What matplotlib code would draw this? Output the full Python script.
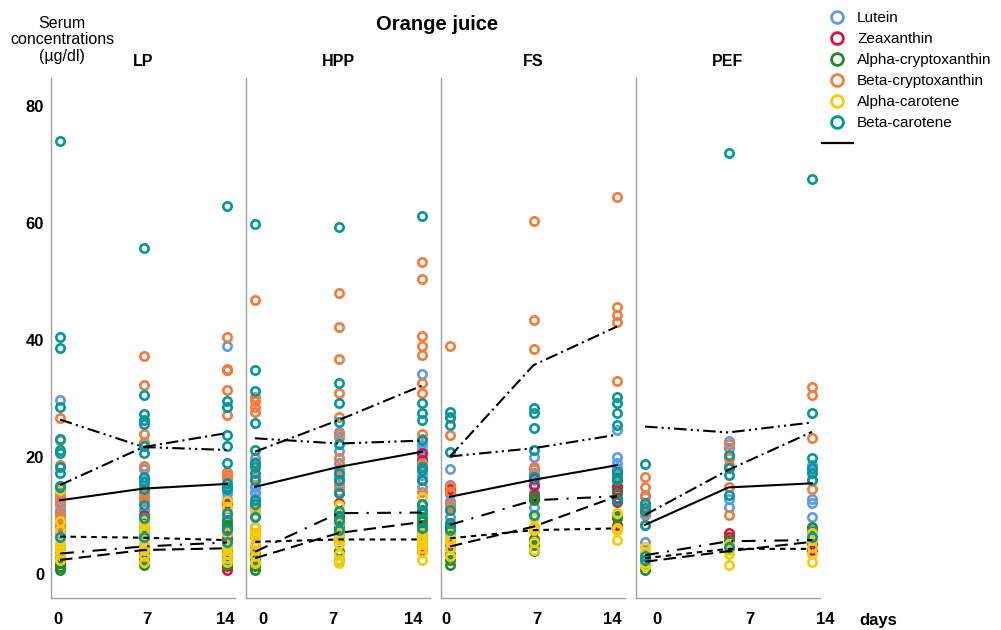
import matplotlib
matplotlib.use("Agg")
import matplotlib.pyplot as plt
from matplotlib.lines import Line2D

plt.rcParams['lines.scale_dashes'] = False
plt.rcParams['font.family'] = ['Liberation Sans', 'DejaVu Sans']

# ---------------- data ----------------
panels = ['LP', 'HPP', 'FS', 'PEF']
days = [0, 7, 14]
day_labels = ['0', '7', '14']
carotenoids = ['Lutein', 'Zeaxanthin', 'Alpha-cryptoxanthin',
               'Beta-cryptoxanthin', 'Alpha-carotene', 'Beta-carotene']
y_ticks = [0, 20, 40, 60, 80]

# individual serum values (µg/dl): panel -> [day0, day7, day14]
lutein_pts = {
    'LP':  [[29.7, 12.4, 11.8, 10.6, 9.2, 8.5, 13.5, 11, 7, 12.3],
            [22, 18, 16, 15, 14, 13, 12.5, 11, 10, 14.5],
            [38.9, 34.8, 13.8, 12.9, 12.1, 9, 8, 7.5, 10, 6.2]],
    'HPP': [[19.8, 18.9, 16.1, 13.8, 15, 14, 12.5, 11, 13, 14.9],
            [24.3, 23.5, 21, 19, 18, 17, 16, 15, 14.2, 15],
            [34.2, 21.2, 20.1, 14.9, 23, 22, 19, 18.5, 17, 19.1]],
    'FS':  [[17.9, 15.2, 9.8, 14, 12, 11.5, 12.5, 13.7],
            [20, 18, 17, 16, 15, 14, 11.5, 17.3],
            [24.6, 14.9, 20, 19, 17, 16.5, 18.2]],
    'PEF': [[13.5, 10.1, 5.5, 11.8],
            [22.8, 21.5, 11.5, 12.8],
            [18.6, 17.8, 12.9, 12.1, 9.8, 7.5]],
}
zeaxanthin_pts = {
    'LP':  [[8, 5, 3.5, 2.5, 1.8, 1.2, 3, 2.8],
            [10.1, 7, 5, 4, 3.5, 3, 2.5, 2.5],
            [0.7, 1.3, 3, 5, 7, 8, 6, 12]],
    'HPP': [[8, 5, 3, 2, 1.5, 3.5, 4, 3.4],
            [16.1, 13.8, 12.1, 10, 9, 8, 7, 7.2],
            [20.6, 19.5, 16.1, 8, 6, 5, 4, 4.8]],
    'FS':  [[14.6, 8.7, 8.1, 6, 5, 7.8],
            [16.4, 15.2, 13.5, 12.9, 10, 7.6],
            [14.4, 8.4, 15, 16, 13, 12.3, 14]],
    'PEF': [[3.5, 2.4], [7.0, 6.4], [5.2, 4.1]],
}
acrypt_pts = {
    'LP':  [[0.7, 1.2, 1.8, 2.5, 3, 4.5, 2, 3.5],
            [1.5, 2.4, 7, 8, 4, 3, 3.5, 3.4],
            [9.2, 8.4, 3, 2, 1.8, 1.5, 2.5, 3.4, 4, 8.2]],
    'HPP': [[0.7, 1.3, 7, 2, 3, 2.5, 1.8, 3.3],
            [2.4, 4, 6, 7.5, 9, 10, 8, 9.1],
            [11.8, 10.9, 9.8, 8.4, 7.5, 6.5, 9, 7.3]],
    'FS':  [[1.5, 3.5, 2.4, 6, 8, 7, 4.5, 4.7],
            [13.2, 12.6, 8, 6, 5, 4, 7.9],
            [17.5, 16.4, 13.8, 12.6, 10, 9.5]],
    'PEF': [[0.7, 1.5, 2.4], [5.8, 4.4], [8.1, 7.2, 6.4]],
}
bcrypt_pts = {
    'LP':  [[26.6, 22.9, 18.7, 15, 13, 10.1, 9.8, 8.2, 14, 12],
            [37.3, 32.3, 24, 22.6, 18.5, 13.5, 14.4, 12.6],
            [40.5, 35, 34.8, 31.5, 27.2, 16.9, 16.4, 10.4, 11.5, 17.5]],
    'HPP': [[46.8, 30.3, 29.5, 28.6, 27.7, 12.6, 10.9, 19.2, 11.8, 7, 10, 16.6],
            [48.1, 42.2, 36.8, 30.9, 26.9, 24, 19.8, 8.7, 15, 14, 18],
            [53.4, 50.4, 40.6, 39, 37.4, 32.6, 30.9, 24, 18.9, 16.1, 14]],
    'FS':  [[38.9, 26.6, 23.8, 11.8, 11.2, 15, 14],
            [60.4, 43.4, 38.4, 18.3, 18.1],
            [64.5, 45.6, 44.3, 43.0, 33.0]],
    'PEF': [[16.6, 14.9, 13.2, 8.4, 10.4],
            [22.3, 19.8, 18.6, 14.9, 10.1],
            [31.9, 30.6, 23.2, 14.6, 16.1]],
}
acar_pts = {
    'LP':  [[14.4, 9, 7.5, 6, 5.2, 4.7, 4.1, 3.2, 2.4, 7.5],
            [8.4, 7.5, 7, 5.2, 4.1, 3, 2.1, 6, 9.5, 9],
            [12.4, 11.5, 7, 4.7, 3.5, 2.7, 2, 4.5, 5, 4.7]],
    'HPP': [[8.1, 7, 5.2, 4.1, 3, 2.1, 1.8, 11, 6.5, 6.2],
            [11.8, 8.7, 7, 5.2, 3.5, 2.4, 1.8, 6, 7.5, 5.1],
            [13.2, 7, 5.2, 4.4, 3.8, 2.4, 6, 5.5, 6.3, 5.2]],
    'FS':  [[10.9, 5.8, 3, 4.4, 7, 5.5, 6, 6.2],
            [9.5, 7.8, 5.5, 4.1, 8, 10, 7.6],
            [10.4, 7.8, 7.5, 5.8, 7.5]],
    'PEF': [[4.7, 3.8, 3.0, 1.8, 1.3],
            [5.2, 3.5, 1.5, 4.1],
            [7.0, 5.8, 4.7, 3.5, 2.1]],
}
bcar_pts = {
    'LP':  [[74.1, 40.5, 38.7, 28.5, 23, 21.2, 20.7, 18.3, 17.3, 15, 14.8, 6.4],
            [55.7, 30.6, 27.4, 26.4, 25.6, 21.8, 20.6, 16.6, 15.8, 14.6, 11.8, 6.4, 9.5],
            [62.9, 29.5, 28.6, 23.8, 21.8, 19, 15.5, 14.9, 14.6, 7.5, 5.4, 10.4]],
    'HPP': [[59.9, 34.9, 31.2, 25.8, 21.2, 18.9, 18.3, 17.2, 16.1, 12.6, 9.8, 12],
            [59.4, 32.7, 29.2, 26, 22.3, 17.2, 16.1, 13.8, 10.7, 7.5, 9],
            [61.2, 29.2, 27.6, 26.3, 22.9, 18.3, 17.8, 16.1, 10.4, 7.8, 12]],
    'FS':  [[27.7, 26.8, 25.5, 20.9, 10.9, 8.7, 7.5],
            [28.3, 27.5, 24.9, 21.2, 16.6, 10.1],
            [30.3, 29.2, 27.6, 25.5, 17.5, 16.1, 12.6]],
    'PEF': [[18.8, 12.1, 11.2, 10.7, 8.4, 3.0, 2.4],
            [71.9, 20.3, 18.1, 16.9, 13.5, 4.7],
            [67.5, 27.6, 19.8, 18.1, 17.2, 16.1, 6.4]],
}

# mean lines: panel -> [day0, day7, day14]
lutein_mean = {'LP': [12.6, 14.6, 15.4], 'HPP': [14.9, 18.3, 20.9],
               'FS': [13.2, 16.1, 18.6], 'PEF': [8.4, 14.8, 15.5]}
zeaxanthin_mean = {'LP': [3.5, 4.7, 5.4], 'HPP': [3.8, 10.4, 10.5],
                   'FS': [8.4, 12.6, 13.3], 'PEF': [3.2, 5.6, 5.8]}
acrypt_mean = {'LP': [2.4, 4.1, 4.4], 'HPP': [2.7, 7.0, 8.9],
               'FS': [4.7, 8.1, 13.3], 'PEF': [2.1, 3.9, 5.5]}
bcrypt_mean = {'LP': [15.2, 21.7, 24.1], 'HPP': [20.9, 26.3, 32.2],
               'FS': [20.1, 35.7, 42.3], 'PEF': [10.1, 17.8, 24.3]}
acar_mean = {'LP': [6.4, 6.2, 5.8], 'HPP': [5.5, 5.9, 5.9],
             'FS': [6.1, 7.5, 7.8], 'PEF': [2.7, 4.3, 4.3]}
bcar_mean = {'LP': [26.4, 21.7, 21.2], 'HPP': [23.2, 22.3, 22.8],
             'FS': [20.1, 21.5, 23.8], 'PEF': [25.2, 24.2, 25.9]}

# ---------------- styles ----------------
colors = ['#5b9bea', '#e0103c', '#1f8b2c', '#f77a3a', '#f8cc00', '#00999b']
dash_styles = ['-', (0, (10, 6, 1.5, 6)), (0, (9, 4.5)),
               (0, (9, 3, 1.5, 3)), (0, (4, 3.5)), (0, (9, 3, 1.5, 3, 1.5, 3))]
all_pts = [lutein_pts, zeaxanthin_pts, acrypt_pts, bcrypt_pts, acar_pts, bcar_pts]
all_means = [lutein_mean, zeaxanthin_mean, acrypt_mean, bcrypt_mean, acar_mean, bcar_mean]

# layout (pixels)
W, H = 1001, 630
panel_left = [51, 246, 441, 636]
panel_w = 195
top_px, bot_px = 78, 598
px_day = 83.5 / 7.0
x0_off = 9
tick_px = [[7, 96, 174], [17, 87, 167], [4.5, 96, 171], [21, 114, 189.6]]
ylim = (-(bot_px - 574) / 5.85, (574 - top_px) / 5.85)
xlim = (-x0_off / px_day, (panel_w - x0_off) / px_day)
narrow = ['Liberation Sans Narrow', 'Liberation Sans', 'DejaVu Sans']
spine_col = '#a0a0a0'

fig = plt.figure(figsize=(W / 100, H / 100), dpi=100)

for i, p in enumerate(panels):
    ax = fig.add_axes([panel_left[i] / W, (H - bot_px) / H,
                       panel_w / W, (bot_px - top_px) / H])
    ax.set_xlim(*xlim)
    ax.set_ylim(*ylim)
    ax.patch.set_alpha(0)
    for k in range(len(carotenoids)):
        for d, vals in zip(days, all_pts[k][p]):
            ax.plot([d] * len(vals), vals, linestyle='none', marker='o',
                    markersize=6.0, markerfacecolor='none',
                    markeredgecolor=colors[k], markeredgewidth=1.9, zorder=2)
    for k in range(len(carotenoids)):
        ax.plot(days, all_means[k][p], color='black', lw=1.5,
                linestyle=dash_styles[k], zorder=3)
    for s in ['top', 'right']:
        ax.spines[s].set_visible(False)
    ax.spines['left'].set_color(spine_col)
    ax.spines['bottom'].set_color(spine_col)
    ax.spines['left'].set_linewidth(1.0)
    ax.spines['bottom'].set_linewidth(1.0)
    ax.spines['bottom'].set_bounds(xlim[0], (184 - x0_off) / px_day)
    ax.set_xticks([(t - x0_off) / px_day for t in tick_px[i]], labels=day_labels)
    ax.tick_params(axis='x', length=0, pad=10)
    for lab in ax.get_xticklabels():
        lab.set_fontfamily(narrow)
        lab.set_fontweight('bold')
        lab.set_fontsize(12)
    if i == 0:
        ax.set_yticks(y_ticks, labels=[str(v) for v in y_ticks])
        ax.tick_params(axis='y', length=0, pad=5)
        for lab in ax.get_yticklabels():
            lab.set_fontfamily(narrow)
            lab.set_fontweight('bold')
            lab.set_fontsize(12)
    else:
        ax.set_yticks([])
    ax.text((143 - 51) / panel_w, 1 + (top_px - 62) / (bot_px - top_px), p,
            transform=ax.transAxes, ha='center', va='center',
            fontsize=11.5, fontweight='bold')

fig.text(437 / W, 1 - 25 / H, 'Orange juice', ha='center', va='center',
         fontsize=14.5, fontweight='bold')
fig.text(62 / W, 1 - 40 / H, 'Serum\nconcentrations\n(µg/dl)', ha='center',
         va='center', fontsize=11.5, linespacing=1.15)
fig.text(878 / W, 1 - 620 / H, 'days', ha='center', va='center',
         fontsize=12, fontweight='bold', family=narrow)

handles = [Line2D([], [], linestyle='none', marker='o', markersize=8.5,
                  markerfacecolor='none', markeredgecolor=c, markeredgewidth=2.0)
           for c in colors]
handles.append(Line2D([], [], color='black', lw=1.6))
labels = carotenoids + ['']
fig.legend(handles, labels, loc='upper left',
           bbox_to_anchor=(822 / W, 1 - 11.5 / H), frameon=False, fontsize=11,
           borderpad=0, borderaxespad=0, handlelength=2.0, handletextpad=0.3,
           labelspacing=0.455)

fig.savefig('out.png', dpi=100)
